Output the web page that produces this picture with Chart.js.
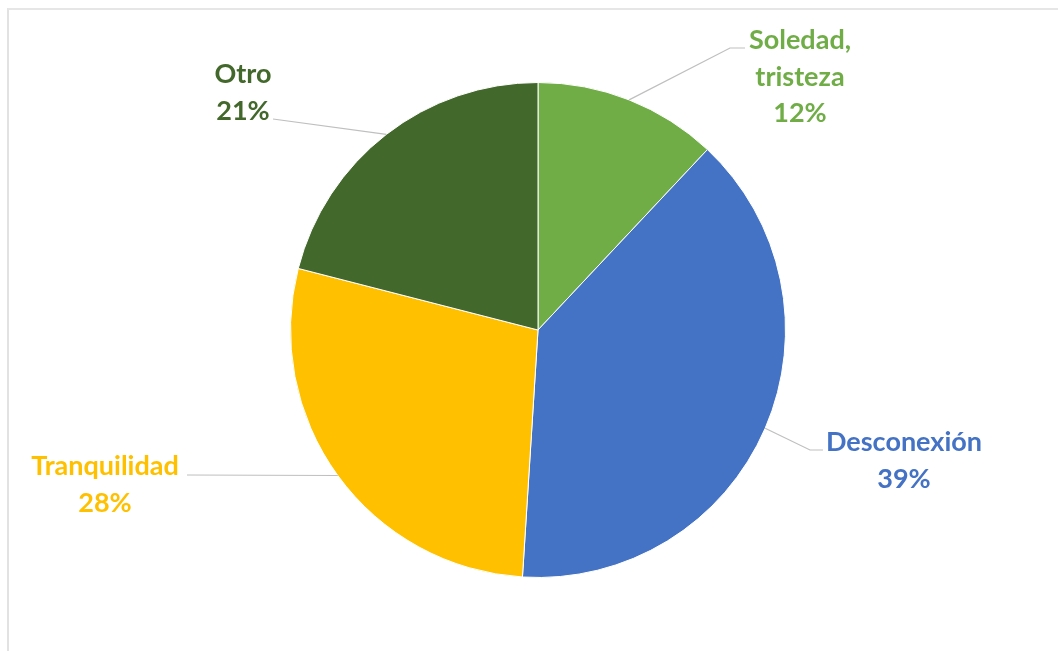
<!DOCTYPE html>
<html>
<head>
<meta charset="utf-8">
<script src="https://cdn.jsdelivr.net/npm/chart.js@4/dist/chart.umd.min.js"></script>
<style>
  html, body { margin: 0; padding: 0; background: #fff; }
  #wrap { position: relative; width: 1058px; height: 651px; }
  #frame { position: absolute; left: 7px; top: 8px; right: 0; bottom: 0;
           border-top: 2px solid #e6e6e6; border-left: 2px solid #e2e2e2; }
  canvas { position: absolute; left: 0; top: 0; }
</style>
</head>
<body>
<div id="wrap">
  <div id="frame"></div>
  <canvas id="canvas" width="1058" height="651"></canvas>
</div>
<script>
const categories = ["Soledad, tristeza", "Desconexión", "Tranquilidad", "Otro"];
const shares = [12, 39, 28, 21];
const colors = ["#70AD47", "#4472C4", "#FFC000", "#43682B"];

// where each label block sits, relative to the pie centre (px)
// text: centre of the text block, elbow/end: leader line after leaving the slice
const labelLayout = [
  { text: [262, -253], elbow: [192, -282], end: [207, -282] },
  { text: [366, 131], elbow: [272, 120], end: [285, 120] },
  { text: [-433, 155], elbow: null, end: [-351, 145] },
  { text: [-295, -237], elbow: null, end: [-265, -211] }
];

const pieLabels = {
  id: 'pieLabels',
  afterDatasetsDraw(chart) {
    const ctx = chart.ctx;
    const meta = chart.getDatasetMeta(0);
    const data = chart.data.datasets[0].data;
    const total = data.reduce((a, b) => a + b, 0);
    ctx.save();
    meta.data.forEach((arc, i) => {
      const lay = labelLayout[i];
      const mid = (arc.startAngle + arc.endAngle) / 2;
      const sx = arc.x + Math.cos(mid) * arc.outerRadius;
      const sy = arc.y + Math.sin(mid) * arc.outerRadius;
      ctx.strokeStyle = '#bfbfbf';
      ctx.lineWidth = 1.2;
      ctx.beginPath();
      ctx.moveTo(sx, sy);
      if (lay.elbow) ctx.lineTo(arc.x + lay.elbow[0], arc.y + lay.elbow[1]);
      ctx.lineTo(arc.x + lay.end[0], arc.y + lay.end[1]);
      ctx.stroke();

      const name = chart.data.labels[i];
      const lines = name.includes(', ') ? name.replace(', ', ',\n').split('\n') : [name];
      lines.push(Math.round(data[i] / total * 100) + '%');
      ctx.fillStyle = colors[i];
      ctx.font = 'bold 27px Lato';
      ctx.textAlign = 'center';
      ctx.textBaseline = 'middle';
      const lh = 36.5;
      lines.forEach((t, k) => {
        ctx.fillText(t, arc.x + lay.text[0], arc.y + lay.text[1] + (k - (lines.length - 1) / 2) * lh);
      });
    });
    ctx.restore();
  }
};

new Chart(document.getElementById('canvas'), {
  type: 'pie',
  data: {
    labels: categories,
    datasets: [{
      data: shares,
      backgroundColor: colors,
      borderColor: '#ffffff',
      borderWidth: 1
    }]
  },
  options: {
    responsive: false,
    animation: false,
    layout: { padding: { top: 82, bottom: 73, left: 290, right: 272 } },
    plugins: {
      legend: { display: false },
      tooltip: { enabled: false }
    }
  },
  plugins: [pieLabels]
});
</script>
</body>
</html>
